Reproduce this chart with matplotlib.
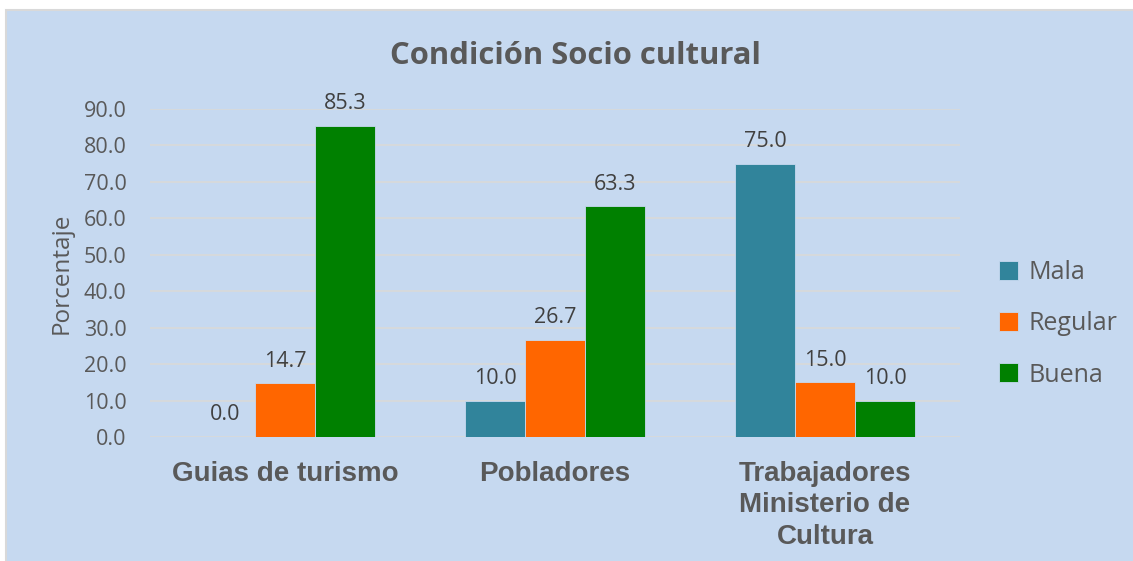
import numpy as np
import matplotlib
matplotlib.use("Agg")
import matplotlib.pyplot as plt
from matplotlib.patches import Rectangle

categories = ["Guias de turismo", "Pobladores", "Trabajadores\nMinisterio de\nCultura"]
series_names = ["Mala", "Regular", "Buena"]
mala = [0.0, 10.0, 75.0]
regular = [14.7, 26.7, 15.0]
buena = [85.3, 63.3, 10.0]
colors = ["#31849B", "#FF6600", "#008000"]

BG = "#C6D9F0"
TXT = "#595959"

fig = plt.figure(figsize=(11.33, 5.61), dpi=100)
fig.patch.set_facecolor("white")
fig.patches.append(Rectangle((6 / 1133, -0.01), 1.02, (551 / 561) + 0.01,
                             transform=fig.transFigure, facecolor=BG,
                             edgecolor="#D9D9D9", linewidth=1.5, zorder=-10))

ax = fig.add_axes([150 / 1133, 1 - 437 / 561, 810 / 1133, 328 / 561])
ax.set_facecolor("none")

x = np.arange(len(categories))
w = 60 / 270
for i, (vals, name) in enumerate(zip([mala, regular, buena], series_names)):
    bars = ax.bar(x + (i - 1) * w, vals, w, color=colors[i], label=name, zorder=3,
                  edgecolor=BG, linewidth=0.6)
    for b, v in zip(bars, vals):
        ax.text(b.get_x() + b.get_width() / 2, v + 3.2, f"{v:.1f}",
                ha="center", va="bottom", fontsize=15.5, color="#404040",
                family="Open Sans", zorder=4)

ax.set_xlim(-0.5, 2.5)
ax.set_ylim(0, 90)
ax.set_yticks(np.arange(0, 91, 10))
ax.set_yticklabels([f"{v:.1f}" for v in np.arange(0, 91, 10)],
                   fontsize=15.5, color=TXT, family="Open Sans")
ax.yaxis.grid(True, color="#D9D9D9", linewidth=1.2, zorder=0)
ax.set_axisbelow(True)
for s in ax.spines.values():
    s.set_visible(False)
ax.tick_params(axis="both", length=0)
ax.tick_params(axis="y", pad=17)
ax.set_xticks(x)
ax.set_xticklabels(categories, fontsize=20, fontweight="bold", color=TXT,
                   family="Liberation Sans", linespacing=1.28)
ax.tick_params(axis="x", pad=17)

ax.set_ylabel("Porcentaje", fontsize=17.5, color=TXT, family="Open Sans", labelpad=7)

fig.text(575 / 1133, 1 - 56 / 561, "Condición Socio cultural", ha="center", va="center",
         fontsize=22.3, fontweight="bold", color=TXT, family="Open Sans")

leg = ax.legend(loc="center left", bbox_to_anchor=(1.02, 0.345), frameon=False,
                fontsize=18, handlelength=0.78, handleheight=0.78, labelspacing=1.05,
                handletextpad=0.4)
for t in leg.get_texts():
    t.set_color(TXT)
    t.set_family("Open Sans")

fig.savefig("out.png", dpi=100, facecolor=fig.get_facecolor())
